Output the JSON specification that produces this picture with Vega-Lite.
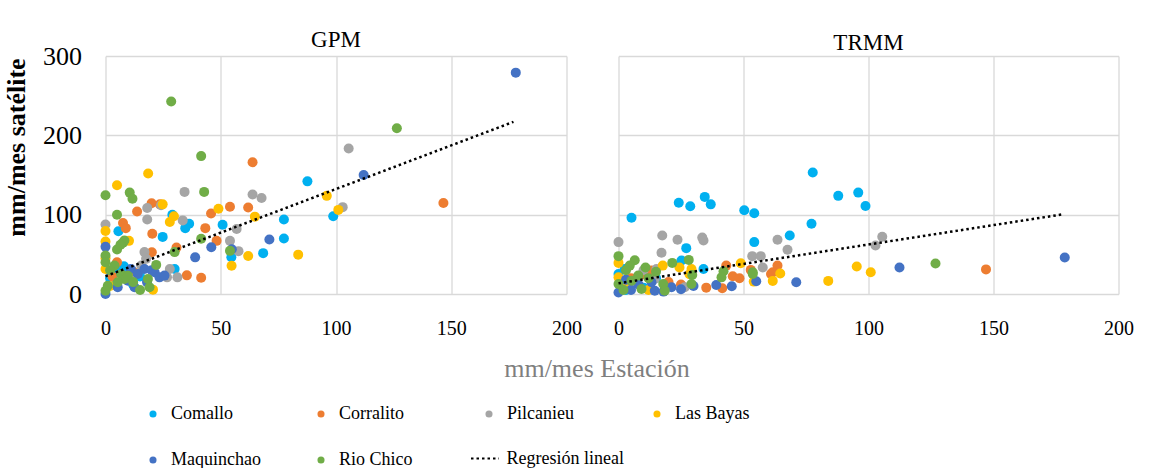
{
  "$schema": "https://vega.github.io/schema/vega-lite/v6.json",
  "padding": {"left": 2.5, "top": 29, "right": 0, "bottom": 0},
  "bounds": "flush",
  "spacing": 52,
  "background": "white",
  "resolve": {"legend": {"color": "independent", "strokeDash": "independent"}},
  "config": {
    "font": "Liberation Serif",
    "view": {"stroke": null},
    "title": {"font": "Liberation Serif", "fontSize": 23, "fontWeight": "normal", "color": "#000000"},
    "axis": {"labelFont": "Liberation Serif", "titleFont": "Liberation Serif", "gridColor": "#d9d9d9", "gridWidth": 1.3, "domain": false, "ticks": false, "labelColor": "#000000", "labelOverlap": false, "labelFlush": false}
  },
  "datasets": {
    "pts": [
      {"p":"GPM","s":"Comallo","x":87.6,"y":142},{"p":"GPM","s":"Comallo","x":77.4,"y":94},{"p":"GPM","s":"Comallo","x":77.4,"y":70},{"p":"GPM","s":"Comallo","x":68.4,"y":51.5},{"p":"GPM","s":"Comallo","x":98.8,"y":98},{"p":"GPM","s":"Comallo","x":50.8,"y":87.3},{"p":"GPM","s":"Comallo","x":54.6,"y":46.4},{"p":"GPM","s":"Comallo","x":36.3,"y":88.6},{"p":"GPM","s":"Comallo","x":34.6,"y":83},{"p":"GPM","s":"Comallo","x":29,"y":100},{"p":"GPM","s":"Comallo","x":24.8,"y":72},{"p":"GPM","s":"Comallo","x":5.6,"y":79},{"p":"GPM","s":"Comallo","x":30,"y":31.6},{"p":"GPM","s":"Comallo","x":2,"y":20},{"p":"GPM","s":"Comallo","x":5,"y":28},{"p":"GPM","s":"Comallo","x":12,"y":12},{"p":"GPM","s":"Comallo","x":8,"y":35},{"p":"GPM","s":"Comallo","x":15,"y":22},{"p":"GPM","s":"Comallo","x":3,"y":15},{"p":"GPM","s":"Comallo","x":10,"y":25},
      {"p":"GPM","s":"Corralito","x":63.8,"y":166},{"p":"GPM","s":"Corralito","x":20,"y":114.5},{"p":"GPM","s":"Corralito","x":13.7,"y":104},{"p":"GPM","s":"Corralito","x":23.6,"y":113},{"p":"GPM","s":"Corralito","x":54,"y":110},{"p":"GPM","s":"Corralito","x":45.8,"y":101.5},{"p":"GPM","s":"Corralito","x":61.9,"y":109},{"p":"GPM","s":"Corralito","x":7.6,"y":89.5},{"p":"GPM","s":"Corralito","x":8.8,"y":83},{"p":"GPM","s":"Corralito","x":20.3,"y":76},{"p":"GPM","s":"Corralito","x":43.3,"y":83},{"p":"GPM","s":"Corralito","x":48.2,"y":67},{"p":"GPM","s":"Corralito","x":30.8,"y":58.5},{"p":"GPM","s":"Corralito","x":20.1,"y":52.7},{"p":"GPM","s":"Corralito","x":35.3,"y":23.5},{"p":"GPM","s":"Corralito","x":41.5,"y":20.5},{"p":"GPM","s":"Corralito","x":146.6,"y":114.8},{"p":"GPM","s":"Corralito","x":5,"y":40},{"p":"GPM","s":"Corralito","x":12,"y":28},{"p":"GPM","s":"Corralito","x":3,"y":22},
      {"p":"GPM","s":"Pilcanieu","x":34.3,"y":128.7},{"p":"GPM","s":"Pilcanieu","x":63.8,"y":125.5},{"p":"GPM","s":"Pilcanieu","x":67.7,"y":121},{"p":"GPM","s":"Pilcanieu","x":18.1,"y":108.5},{"p":"GPM","s":"Pilcanieu","x":18.1,"y":94},{"p":"GPM","s":"Pilcanieu","x":24.1,"y":111.8},{"p":"GPM","s":"Pilcanieu","x":33.5,"y":92.8},{"p":"GPM","s":"Pilcanieu","x":102.9,"y":109.5},{"p":"GPM","s":"Pilcanieu","x":105.5,"y":183.5},{"p":"GPM","s":"Pilcanieu","x":56.9,"y":82},{"p":"GPM","s":"Pilcanieu","x":54,"y":67},{"p":"GPM","s":"Pilcanieu","x":57.7,"y":54},{"p":"GPM","s":"Pilcanieu","x":0,"y":87.5},{"p":"GPM","s":"Pilcanieu","x":16.9,"y":52.8},{"p":"GPM","s":"Pilcanieu","x":15.5,"y":35.8},{"p":"GPM","s":"Pilcanieu","x":17.6,"y":44.3},{"p":"GPM","s":"Pilcanieu","x":27.9,"y":31.6},{"p":"GPM","s":"Pilcanieu","x":26.7,"y":21},{"p":"GPM","s":"Pilcanieu","x":31.2,"y":21},{"p":"GPM","s":"Pilcanieu","x":10,"y":20},{"p":"GPM","s":"Pilcanieu","x":5,"y":12},
      {"p":"GPM","s":"Las Bayas","x":18.5,"y":152},{"p":"GPM","s":"Las Bayas","x":5,"y":137},{"p":"GPM","s":"Las Bayas","x":24.8,"y":113},{"p":"GPM","s":"Las Bayas","x":49,"y":107.5},{"p":"GPM","s":"Las Bayas","x":29.7,"y":98},{"p":"GPM","s":"Las Bayas","x":27.9,"y":90.7},{"p":"GPM","s":"Las Bayas","x":64.8,"y":97.5},{"p":"GPM","s":"Las Bayas","x":96,"y":123.7},{"p":"GPM","s":"Las Bayas","x":101,"y":106},{"p":"GPM","s":"Las Bayas","x":0,"y":79.5},{"p":"GPM","s":"Las Bayas","x":0,"y":66.2},{"p":"GPM","s":"Las Bayas","x":10.2,"y":67},{"p":"GPM","s":"Las Bayas","x":61.9,"y":48},{"p":"GPM","s":"Las Bayas","x":83.6,"y":49.6},{"p":"GPM","s":"Las Bayas","x":54.7,"y":35.5},{"p":"GPM","s":"Las Bayas","x":20.6,"y":5.5},{"p":"GPM","s":"Las Bayas","x":0,"y":31.6},{"p":"GPM","s":"Las Bayas","x":2,"y":10},{"p":"GPM","s":"Las Bayas","x":8,"y":22},{"p":"GPM","s":"Las Bayas","x":0,"y":45},
      {"p":"GPM","s":"Maquinchao","x":178,"y":279},{"p":"GPM","s":"Maquinchao","x":112,"y":150},{"p":"GPM","s":"Maquinchao","x":71.1,"y":68.6},{"p":"GPM","s":"Maquinchao","x":45.9,"y":59},{"p":"GPM","s":"Maquinchao","x":38.9,"y":46.2},{"p":"GPM","s":"Maquinchao","x":54.8,"y":56.5},{"p":"GPM","s":"Maquinchao","x":0,"y":59.5},{"p":"GPM","s":"Maquinchao","x":11,"y":31.6},{"p":"GPM","s":"Maquinchao","x":14,"y":25.3},{"p":"GPM","s":"Maquinchao","x":16.9,"y":31.6},{"p":"GPM","s":"Maquinchao","x":21.3,"y":27.4},{"p":"GPM","s":"Maquinchao","x":23.4,"y":21},{"p":"GPM","s":"Maquinchao","x":25.6,"y":23.2},{"p":"GPM","s":"Maquinchao","x":12.6,"y":8.5},{"p":"GPM","s":"Maquinchao","x":5.3,"y":8.5},{"p":"GPM","s":"Maquinchao","x":0,"y":0},{"p":"GPM","s":"Maquinchao","x":9.7,"y":16.8},{"p":"GPM","s":"Maquinchao","x":18,"y":15},{"p":"GPM","s":"Maquinchao","x":20,"y":30},{"p":"GPM","s":"Maquinchao","x":7,"y":25},
      {"p":"GPM","s":"Rio Chico","x":28.5,"y":242.6},{"p":"GPM","s":"Rio Chico","x":41.5,"y":173.8},{"p":"GPM","s":"Rio Chico","x":42.8,"y":128.7},{"p":"GPM","s":"Rio Chico","x":0,"y":124.4},{"p":"GPM","s":"Rio Chico","x":10.5,"y":127.8},{"p":"GPM","s":"Rio Chico","x":11.7,"y":120},{"p":"GPM","s":"Rio Chico","x":5,"y":100},{"p":"GPM","s":"Rio Chico","x":7.6,"y":64.5},{"p":"GPM","s":"Rio Chico","x":5,"y":56},{"p":"GPM","s":"Rio Chico","x":8.2,"y":67.5},{"p":"GPM","s":"Rio Chico","x":6.5,"y":62},{"p":"GPM","s":"Rio Chico","x":0,"y":48.5},{"p":"GPM","s":"Rio Chico","x":30,"y":52.8},{"p":"GPM","s":"Rio Chico","x":41.5,"y":69.6},{"p":"GPM","s":"Rio Chico","x":54,"y":54.4},{"p":"GPM","s":"Rio Chico","x":126.4,"y":209},{"p":"GPM","s":"Rio Chico","x":3.9,"y":36},{"p":"GPM","s":"Rio Chico","x":6.8,"y":25},{"p":"GPM","s":"Rio Chico","x":8.2,"y":19},{"p":"GPM","s":"Rio Chico","x":1,"y":10.5},{"p":"GPM","s":"Rio Chico","x":5.3,"y":14.8},{"p":"GPM","s":"Rio Chico","x":9.7,"y":23},{"p":"GPM","s":"Rio Chico","x":18.4,"y":19},{"p":"GPM","s":"Rio Chico","x":19.1,"y":8.5},{"p":"GPM","s":"Rio Chico","x":22,"y":36.7},{"p":"GPM","s":"Rio Chico","x":0,"y":4},{"p":"GPM","s":"Rio Chico","x":0,"y":40},{"p":"GPM","s":"Rio Chico","x":2,"y":30},{"p":"GPM","s":"Rio Chico","x":12,"y":15},{"p":"GPM","s":"Rio Chico","x":15,"y":5},
      {"p":"TRMM","s":"Comallo","x":5.2,"y":96.2},{"p":"TRMM","s":"Comallo","x":24.1,"y":115},{"p":"TRMM","s":"Comallo","x":28.7,"y":110.5},{"p":"TRMM","s":"Comallo","x":34.5,"y":122.4},{"p":"TRMM","s":"Comallo","x":36.9,"y":113},{"p":"TRMM","s":"Comallo","x":50.3,"y":105.5},{"p":"TRMM","s":"Comallo","x":54.3,"y":101.7},{"p":"TRMM","s":"Comallo","x":77.7,"y":153.2},{"p":"TRMM","s":"Comallo","x":87.9,"y":123.7},{"p":"TRMM","s":"Comallo","x":95.9,"y":127.8},{"p":"TRMM","s":"Comallo","x":98.8,"y":111},{"p":"TRMM","s":"Comallo","x":77.2,"y":88.6},{"p":"TRMM","s":"Comallo","x":68.5,"y":73.8},{"p":"TRMM","s":"Comallo","x":54.3,"y":65.4},{"p":"TRMM","s":"Comallo","x":27.1,"y":57.8},{"p":"TRMM","s":"Comallo","x":34,"y":31.6},{"p":"TRMM","s":"Comallo","x":0,"y":25.3},{"p":"TRMM","s":"Comallo","x":2.5,"y":31.6},{"p":"TRMM","s":"Comallo","x":25.2,"y":42.2},{"p":"TRMM","s":"Comallo","x":5,"y":15},{"p":"TRMM","s":"Comallo","x":10,"y":8},{"p":"TRMM","s":"Comallo","x":15,"y":20},{"p":"TRMM","s":"Comallo","x":3,"y":5},
      {"p":"TRMM","s":"Corralito","x":43.1,"y":35.8},{"p":"TRMM","s":"Corralito","x":45.7,"y":22.4},{"p":"TRMM","s":"Corralito","x":48.4,"y":19.9},{"p":"TRMM","s":"Corralito","x":52.9,"y":30.4},{"p":"TRMM","s":"Corralito","x":63.6,"y":35.8},{"p":"TRMM","s":"Corralito","x":61.7,"y":27.4},{"p":"TRMM","s":"Corralito","x":35.1,"y":8},{"p":"TRMM","s":"Corralito","x":41.5,"y":7.2},{"p":"TRMM","s":"Corralito","x":147,"y":31},{"p":"TRMM","s":"Corralito","x":61,"y":25.3},{"p":"TRMM","s":"Corralito","x":13.2,"y":29.5},{"p":"TRMM","s":"Corralito","x":10,"y":25},{"p":"TRMM","s":"Corralito","x":20,"y":15},{"p":"TRMM","s":"Corralito","x":5,"y":20},{"p":"TRMM","s":"Corralito","x":25,"y":12},
      {"p":"TRMM","s":"Pilcanieu","x":0,"y":65.4},{"p":"TRMM","s":"Pilcanieu","x":17.5,"y":73.8},{"p":"TRMM","s":"Pilcanieu","x":23.6,"y":68.4},{"p":"TRMM","s":"Pilcanieu","x":33.5,"y":71.2},{"p":"TRMM","s":"Pilcanieu","x":34,"y":67.5},{"p":"TRMM","s":"Pilcanieu","x":17.2,"y":51.9},{"p":"TRMM","s":"Pilcanieu","x":63.6,"y":68.4},{"p":"TRMM","s":"Pilcanieu","x":67.6,"y":55.7},{"p":"TRMM","s":"Pilcanieu","x":53.5,"y":47.7},{"p":"TRMM","s":"Pilcanieu","x":56.9,"y":47.7},{"p":"TRMM","s":"Pilcanieu","x":57.7,"y":33.3},{"p":"TRMM","s":"Pilcanieu","x":105.5,"y":72.2},{"p":"TRMM","s":"Pilcanieu","x":102.8,"y":61.2},{"p":"TRMM","s":"Pilcanieu","x":15.2,"y":31.6},{"p":"TRMM","s":"Pilcanieu","x":14.5,"y":19},{"p":"TRMM","s":"Pilcanieu","x":26.5,"y":8.5},{"p":"TRMM","s":"Pilcanieu","x":5,"y":10},{"p":"TRMM","s":"Pilcanieu","x":10,"y":30},
      {"p":"TRMM","s":"Las Bayas","x":48.9,"y":38.8},{"p":"TRMM","s":"Las Bayas","x":64.7,"y":25.8},{"p":"TRMM","s":"Las Bayas","x":61.7,"y":16.5},{"p":"TRMM","s":"Las Bayas","x":83.9,"y":16.5},{"p":"TRMM","s":"Las Bayas","x":95.3,"y":34.6},{"p":"TRMM","s":"Las Bayas","x":100.9,"y":27.4},{"p":"TRMM","s":"Las Bayas","x":17.7,"y":35.8},{"p":"TRMM","s":"Las Bayas","x":24.4,"y":33.3},{"p":"TRMM","s":"Las Bayas","x":28.4,"y":24.9},{"p":"TRMM","s":"Las Bayas","x":0,"y":39.2},{"p":"TRMM","s":"Las Bayas","x":54.1,"y":15.6},{"p":"TRMM","s":"Las Bayas","x":0,"y":21},{"p":"TRMM","s":"Las Bayas","x":29.2,"y":31.6},{"p":"TRMM","s":"Las Bayas","x":2,"y":10},{"p":"TRMM","s":"Las Bayas","x":12,"y":5},
      {"p":"TRMM","s":"Maquinchao","x":178.5,"y":46},{"p":"TRMM","s":"Maquinchao","x":112.4,"y":33.3},{"p":"TRMM","s":"Maquinchao","x":71.1,"y":14.8},{"p":"TRMM","s":"Maquinchao","x":55.1,"y":16},{"p":"TRMM","s":"Maquinchao","x":45.3,"y":9.7},{"p":"TRMM","s":"Maquinchao","x":39.1,"y":11.4},{"p":"TRMM","s":"Maquinchao","x":0,"y":2},{"p":"TRMM","s":"Maquinchao","x":14.5,"y":4.2},{"p":"TRMM","s":"Maquinchao","x":21.2,"y":8.5},{"p":"TRMM","s":"Maquinchao","x":13.2,"y":14.8},{"p":"TRMM","s":"Maquinchao","x":25,"y":6},{"p":"TRMM","s":"Maquinchao","x":30,"y":10},{"p":"TRMM","s":"Maquinchao","x":5,"y":5},{"p":"TRMM","s":"Maquinchao","x":8,"y":12},{"p":"TRMM","s":"Maquinchao","x":18,"y":3},{"p":"TRMM","s":"Maquinchao","x":3,"y":18},
      {"p":"TRMM","s":"Rio Chico","x":126.8,"y":38.4},{"p":"TRMM","s":"Rio Chico","x":0,"y":47.7},{"p":"TRMM","s":"Rio Chico","x":6.5,"y":42.6},{"p":"TRMM","s":"Rio Chico","x":10.8,"y":33.3},{"p":"TRMM","s":"Rio Chico","x":21.5,"y":39.2},{"p":"TRMM","s":"Rio Chico","x":28.1,"y":43},{"p":"TRMM","s":"Rio Chico","x":42,"y":28.7},{"p":"TRMM","s":"Rio Chico","x":53.7,"y":27.4},{"p":"TRMM","s":"Rio Chico","x":29.5,"y":24},{"p":"TRMM","s":"Rio Chico","x":53.7,"y":25.3},{"p":"TRMM","s":"Rio Chico","x":4.5,"y":35.8},{"p":"TRMM","s":"Rio Chico","x":0,"y":12.7},{"p":"TRMM","s":"Rio Chico","x":5.2,"y":16.8},{"p":"TRMM","s":"Rio Chico","x":9.2,"y":6.3},{"p":"TRMM","s":"Rio Chico","x":17.9,"y":12.7},{"p":"TRMM","s":"Rio Chico","x":18.5,"y":4.2},{"p":"TRMM","s":"Rio Chico","x":29.2,"y":12.7},{"p":"TRMM","s":"Rio Chico","x":41.2,"y":21},{"p":"TRMM","s":"Rio Chico","x":7.9,"y":23.2},{"p":"TRMM","s":"Rio Chico","x":3,"y":30},{"p":"TRMM","s":"Rio Chico","x":12,"y":20},{"p":"TRMM","s":"Rio Chico","x":2,"y":5},{"p":"TRMM","s":"Rio Chico","x":15,"y":28}
    ],
    "reg": [
      {"p":"GPM","t":"Regresión lineal","x":0,"y":22.4},{"p":"GPM","t":"Regresión lineal","x":177,"y":217},
      {"p":"TRMM","t":"Regresión lineal","x":0,"y":13.5},{"p":"TRMM","t":"Regresión lineal","x":177.7,"y":100.4}
    ]
  },
  "hconcat": [
    {
      "width": 461,
      "height": 238,
      "title": {"text": "GPM", "offset": -9},
      "layer": [
        {
          "data": {"name": "pts"},
          "transform": [{"filter": "datum.p === 'GPM'"}],
          "mark": {"type": "circle", "size": 100, "opacity": 1},
          "encoding": {
            "x": {"field": "x", "type": "quantitative", "scale": {"domain": [0, 200], "nice": false},
                  "axis": {"values": [0, 50, 100, 150, 200], "labelFontSize": 20, "labelPadding": 24, "title": "mm/mes Estación", "titleFontSize": 26, "titleFontWeight": "normal", "titleColor": "#7f7f7f", "titleX": 491, "titleY": 61}},
            "y": {"field": "y", "type": "quantitative", "scale": {"domain": [0, 300], "nice": false},
                  "axis": {"values": [0, 50, 100, 150, 200, 250, 300], "labelFontSize": 26, "labelPadding": 24, "title": "mm/mes satélite", "titleFontSize": 26, "titleFontWeight": "bold", "titleColor": "#000000", "titleX": -76, "titleY": 91}},
            "color": {"field": "s", "type": "nominal",
                      "scale": {"domain": ["Comallo", "Corralito", "Pilcanieu", "Las Bayas", "Maquinchao", "Rio Chico"],
                                "range": ["#00B0F0", "#ED7D31", "#A5A5A5", "#FFC000", "#4472C4", "#70AD47"]},
                      "legend": {"orient": "none", "legendX": 38.5, "legendY": 349, "title": null, "columns": 4, "direction": "horizontal", "gridAlign": "all", "columnPadding": 51, "rowPadding": 28, "padding": 0,
                                 "labelFont": "Liberation Serif", "labelFontSize": 18, "labelColor": "#000000", "symbolType": "circle", "symbolSize": 50, "labelOffset": 9}}
          }
        },
        {
          "data": {"name": "reg"},
          "transform": [{"filter": "datum.p === 'GPM'"}],
          "mark": {"type": "line", "color": "#000000", "strokeWidth": 2.5},
          "encoding": {
            "x": {"field": "x", "type": "quantitative"},
            "y": {"field": "y", "type": "quantitative"},
            "strokeDash": {"field": "t", "type": "nominal", "scale": {"domain": ["Regresión lineal"], "range": [[2.5, 3]]},
                           "legend": {"orient": "none", "legendX": 364, "legendY": 387, "title": null, "padding": 0,
                                      "labelFont": "Liberation Serif", "labelFontSize": 18, "labelColor": "#000000",
                                      "symbolType": "stroke", "symbolSize": 784, "symbolStrokeWidth": 2.2, "symbolStrokeColor": "#000000", "labelOffset": 6}}
          }
        }
      ]
    },
    {
      "width": 500,
      "height": 238,
      "title": {"text": "TRMM", "offset": 1},
      "layer": [
        {
          "data": {"name": "pts"},
          "transform": [{"filter": "datum.p === 'TRMM'"}],
          "mark": {"type": "circle", "size": 100, "opacity": 1},
          "encoding": {
            "x": {"field": "x", "type": "quantitative", "scale": {"domain": [0, 200], "nice": false},
                  "axis": {"values": [0, 50, 100, 150, 200], "labelFontSize": 20, "labelPadding": 24, "title": null}},
            "y": {"field": "y", "type": "quantitative", "scale": {"domain": [0, 300], "nice": false},
                  "axis": {"values": [0, 50, 100, 150, 200, 250, 300], "labels": false, "title": null}},
            "color": {"field": "s", "type": "nominal", "legend": null}
          }
        },
        {
          "data": {"name": "reg"},
          "transform": [{"filter": "datum.p === 'TRMM'"}],
          "mark": {"type": "line", "color": "#000000", "strokeWidth": 2.5},
          "encoding": {
            "x": {"field": "x", "type": "quantitative"},
            "y": {"field": "y", "type": "quantitative"},
            "strokeDash": {"field": "t", "type": "nominal", "legend": null}
          }
        }
      ]
    }
  ]
}
